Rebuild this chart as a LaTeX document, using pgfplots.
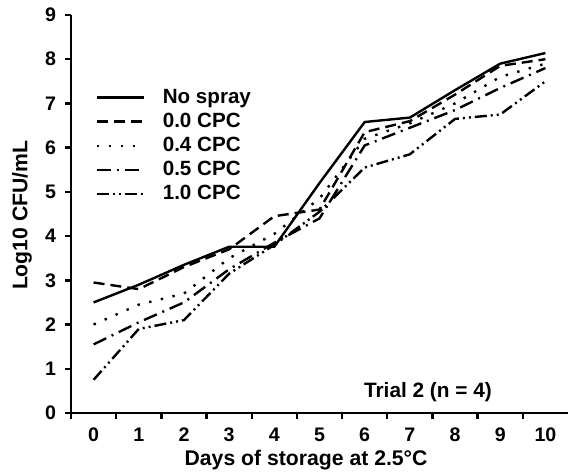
\documentclass[border=0pt]{standalone}
\usepackage{fontspec}
\setmainfont{Liberation Sans}
\newcommand\mf{\bfseries}
\usepackage{pgfplots}
\pgfplotsset{compat=1.18}
\begin{document}
\begin{tikzpicture}
\begin{axis}[
  scale only axis, width=248.5pt, height=199pt,
  xmin=-0.5, xmax=10.5, ymin=0, ymax=9,
  axis x line=bottom, axis y line=left,
  axis line style={line width=1.3pt,-},
  xtick={0,...,10}, major x tick style={draw=none},
  minor xtick={-0.5,0.5,...,9.5},
  ytick={0,...,9},
  tick align=outside,
  tick style={line width=1.2pt, black},
  major tick length=3pt, minor tick length=3pt,
  /pgf/number format/assume math mode=true,
  ticklabel style={font=\mf\fontsize{9.8}{11}\selectfont},
  xticklabel style={yshift=-0.8pt},
  yticklabel style={xshift=-1pt},
  xlabel={Days of storage at 2.5°C},
  ylabel={Log10 CFU/mL},
  every axis x label/.style={at={(axis description cs:0.473,-0.118)},anchor=center,font=\mf\fontsize{10.6}{12}\selectfont},
  every axis y label/.style={at={(axis description cs:-0.0986,0.497)},rotate=90,anchor=center,font=\mf\fontsize{10.6}{12}\selectfont},
  legend cell align=left,
  legend image code/.code={\draw[#1] (0pt,0pt) -- (23.5pt,0pt);},
  legend style={at={(0.0483,0.819)}, anchor=north west, draw=none, fill=none,
    inner sep=0pt, row sep=2.1pt, column sep=9pt,
    font=\mf\fontsize{10.3}{12}\selectfont,
    nodes={inner sep=0pt, text height=7.8pt, text depth=2.2pt, anchor=west}},
  clip=false,
]
\addplot[black, line width=1.2pt] coordinates {(0,2.5)(1,2.9)(2,3.35)(3,3.76)(4,3.76)(5,5.2)(6,6.58)(7,6.68)(8,7.3)(9,7.9)(10,8.14)};
\addlegendentry{No spray}
\addplot[black, line width=1.2pt, dash pattern=on 5.5pt off 3pt] coordinates {(0,2.95)(1,2.8)(2,3.3)(3,3.7)(4,4.45)(5,4.6)(6,6.35)(7,6.6)(8,7.2)(9,7.85)(10,8.0)};
\addlegendentry{0.0 CPC}
\addplot[black, line width=1.2pt, dash pattern=on 1.2pt off 4.8pt] coordinates {(0,2.0)(1,2.45)(2,2.7)(3,3.5)(4,4.05)(5,4.85)(6,6.2)(7,6.55)(8,7.0)(9,7.6)(10,7.9)};
\addlegendentry{0.4 CPC}
\addplot[black, line width=1.2pt, dash pattern=on 7pt off 3pt on 1pt off 3pt] coordinates {(0,1.55)(1,2.05)(2,2.5)(3,3.25)(4,3.85)(5,4.4)(6,6.05)(7,6.45)(8,6.85)(9,7.35)(10,7.8)};
\addlegendentry{0.5 CPC}
\addplot[black, line width=1.2pt, dash pattern=on 6pt off 2pt on 1pt off 2pt on 1pt off 2pt] coordinates {(0,0.75)(1,1.9)(2,2.1)(3,3.15)(4,3.8)(5,4.55)(6,5.55)(7,5.85)(8,6.65)(9,6.75)(10,7.5)};
\addlegendentry{1.0 CPC}
\node[font=\mf\fontsize{10.4}{12}\selectfont] at (axis cs:7.4,0.48) {Trial 2 (n = 4)};
\coordinate (bbsw) at (rel axis cs:-0.1429,-0.1533);
\coordinate (bbne) at (rel axis cs:1.0,1.0377);
\end{axis}
\pgfresetboundingbox
\path[use as bounding box] (bbsw) rectangle (bbne);
\end{tikzpicture}
\end{document}
